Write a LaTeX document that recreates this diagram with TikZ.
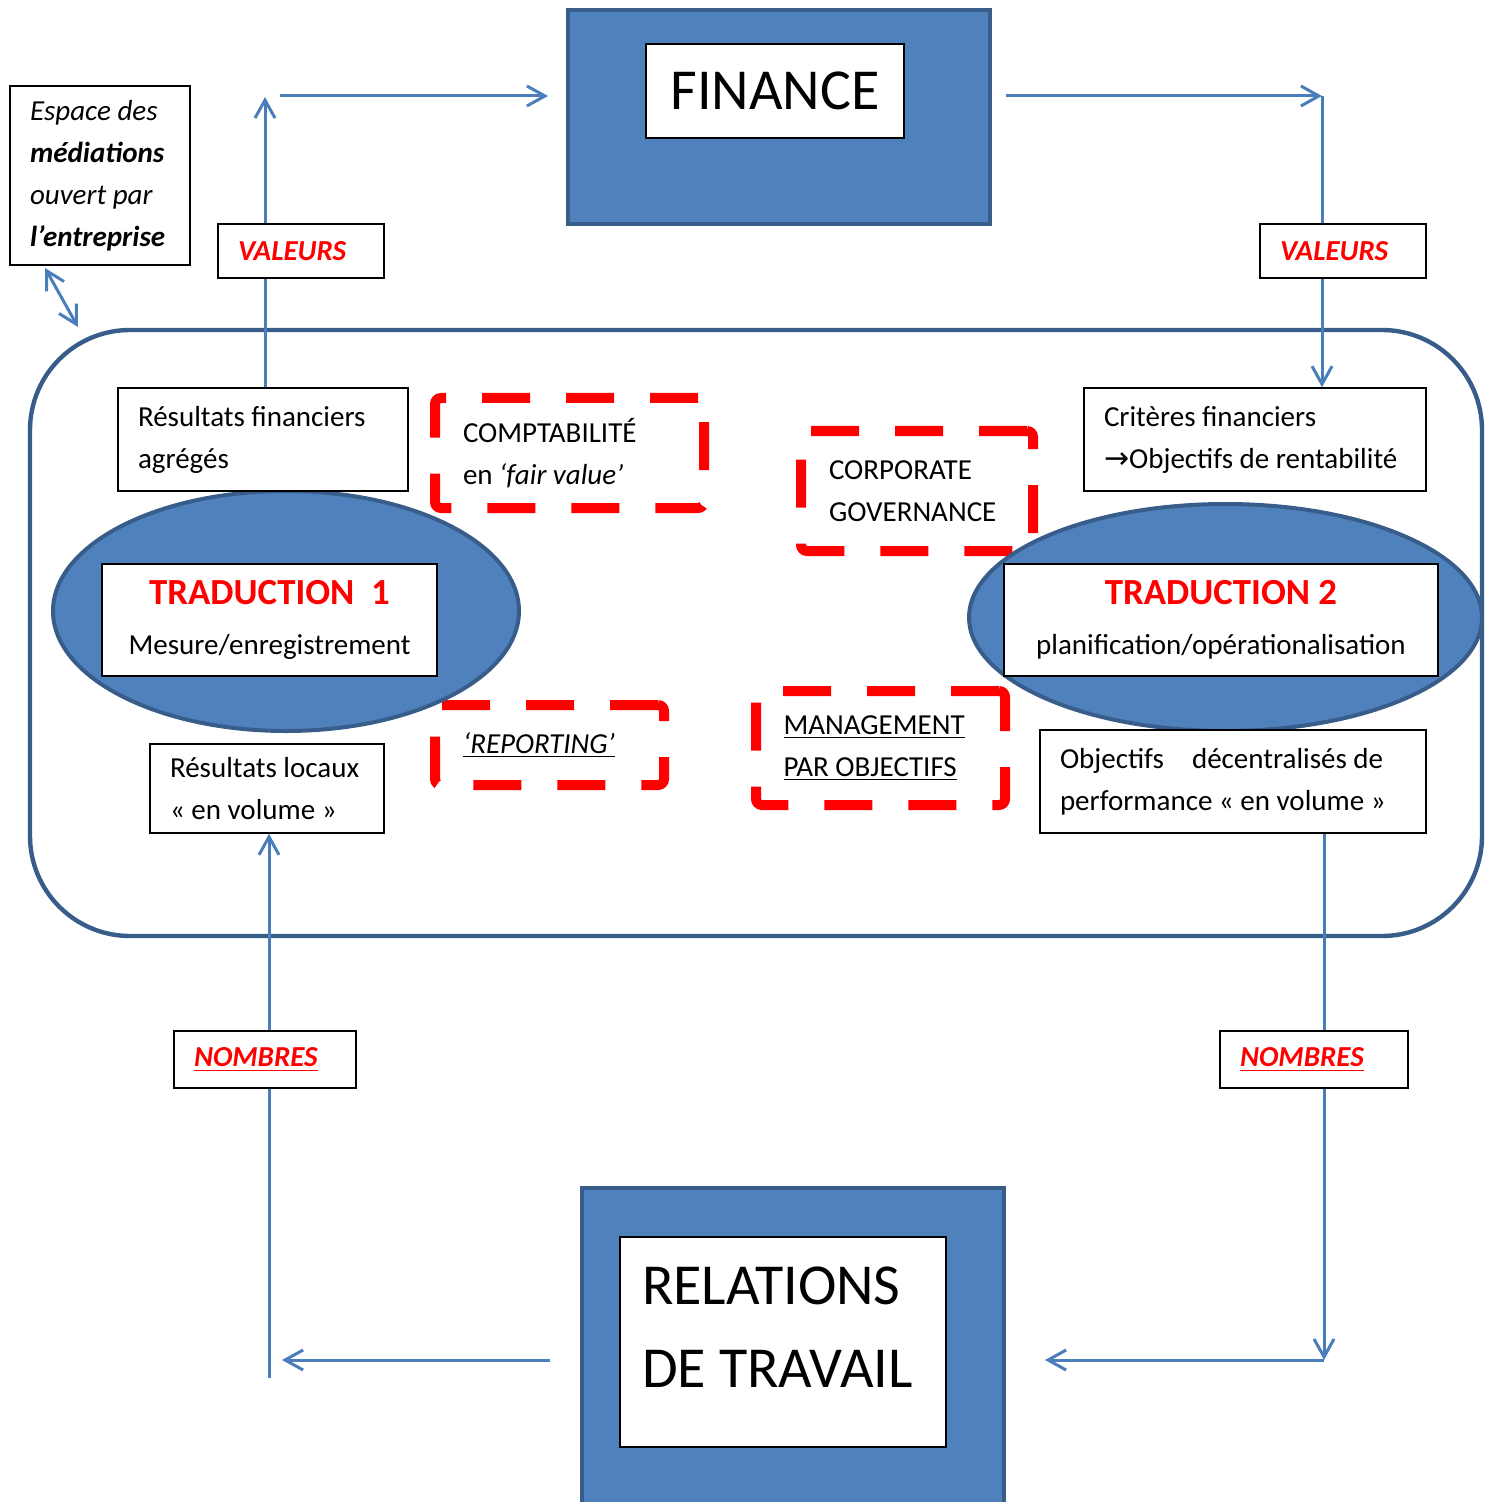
\documentclass[tikz,border=0pt]{standalone}
\usepackage{fontspec}
\setmainfont{Carlito}
\newfontfamily\arrowfont{DejaVu Sans}
\usepackage{tikz}
\usetikzlibrary{arrows.meta,positioning,shapes.geometric}
\usepackage{xcolor}
\definecolor{fillBlue}{RGB}{79,129,189}
\definecolor{frameBlue}{RGB}{56,93,138}
\definecolor{arrowBlue}{RGB}{74,126,187}
\newcommand\diagtext{\fontsize{14.5}{21}\selectfont}
\newcommand\poletext{\fontsize{29}{41.5}\selectfont}
\tikzset{
  flow/.style={-{Straight Barb[length=9pt,width=10pt]}, line width=1.5pt, draw=arrowBlue},
  twoway/.style={{Straight Barb[length=9pt,width=10pt]}-{Straight Barb[length=9pt,width=10pt]},
                 line width=1.5pt, draw=arrowBlue},
  pole/.style={draw=frameBlue, fill=fillBlue, line width=2pt},
  poletitle/.style={draw=black, fill=white, line width=.75pt, font=\poletext},
  zone/.style={draw=frameBlue, line width=2.2pt, rounded corners=50pt},
  translation/.style={ellipse, draw=frameBlue, fill=fillBlue, line width=2pt},
  tradbox/.style={draw=black, fill=white, line width=.75pt, align=flush center, font=\diagtext},
  result/.style={draw=black, fill=white, line width=.75pt, align=flush left, font=\diagtext,
                 inner xsep=10pt},
  tool/.style={draw=red, line width=5pt, dash pattern=on 24pt off 18pt, rounded corners=3pt,
               align=flush left, font=\diagtext, inner xsep=14pt},
  medium/.style={draw=black, fill=white, line width=.75pt, text=red, align=flush left,
                 font=\diagtext\bfseries\itshape, inner xsep=10pt}
}

\begin{document}
\begin{tikzpicture}[x=0.5pt, y=-0.5pt]
  \useasboundingbox (0,0) rectangle (1494,1502);
  % enterprise space
  \node[zone, minimum width=726pt, minimum height=303pt] (space) at (756,633) {};
  % the two poles
  \node[pole, minimum width=211pt, minimum height=107pt] (finance) at (779,117) {};
  \node[poletitle, minimum width=129pt, minimum height=47pt] (fintitle) at (775,91) {FINANCE};
  \node[pole, minimum width=211pt, minimum height=172pt] (relations) at (793,1360) {};
  \node[poletitle, minimum width=163pt, minimum height=105pt] (reltitle) at (783,1342) {};
  \node[font=\poletext, text width=141pt, align=flush left] (reltext) at (783,1327) {RELATIONS\\DE TRAVAIL};
  % dispositifs
  \node[tool, minimum width=134.5pt, minimum height=55pt, text width=106.5pt] (fairvalue) at (569.5,453)
       {COMPTABILITÉ\\en \textit{‘fair value’}};
  \node[tool, minimum width=116pt, minimum height=60pt, text width=88pt] (governance) at (917,491)
       {CORPORATE\\GOVERNANCE};
  \node[tool, minimum width=114.5pt, minimum height=40pt, text width=86.5pt] (reporting) at (549.5,745)
       {\underline{\textit{‘REPORTING’}}};
  \node[tool, minimum width=124.5pt, minimum height=57pt, text width=97pt, inner xsep=13.5pt] (mbo) at (880.5,748)
       {\underline{MANAGEMENT}\\\underline{PAR OBJECTIFS}};
  % translations
  \node[translation, minimum width=233pt, minimum height=120pt] (ell1) at (286,611) {};
  \node[translation, minimum width=256.5pt, minimum height=113.5pt] (ell2) at (1225.5,617.5) {};
  \node[tradbox, minimum width=167.5pt, minimum height=56pt] (trad1) at (269.5,620)
       {{\fontsize{18.4}{22}\selectfont\bfseries\color{red}TRADUCTION\ \ 1}\\[4pt]Mesure/enregistrement};
  \node[tradbox, minimum width=217pt, minimum height=56pt] (trad2) at (1221,620)
       {{\fontsize{18.4}{22}\selectfont\bfseries\color{red}TRADUCTION 2}\\[4pt]planification/opérationalisation};
  % results and objectives
  \node[result, minimum width=145pt, minimum height=51.5pt, text width=125pt] (aggr) at (263,439.5)
       {Résultats financiers\\agrégés};
  \node[result, minimum width=171pt, minimum height=51.5pt, text width=151pt] (crit) at (1255,439.5)
       {Critères financiers\\\mbox{{\arrowfont\fontsize{15}{21}\selectfont →}Objectifs de rentabilité}};
  \node[result, minimum width=117pt, minimum height=44.5pt, text width=97pt] (local) at (267,788.5)
       {Résultats locaux\\« en volume »};
  \node[result, minimum width=193pt, minimum height=51.5pt, text width=173pt] (decent) at (1233,781.5)
       {Objectifs\hspace{14pt}décentralisés de\\performance « en volume »};
  % circuit
  \coordinate (upL) at (265,97);
  \coordinate (topL) at (280,96);
  \coordinate (topR) at (1322,96);
  \coordinate (botR) at (1324,1360);
  \coordinate (botL) at (269,1378);
  \draw[flow] (aggr.north -| upL) -- (upL);
  \draw[flow, shorten >=9pt] (topL) -- (finance.west |- topL);
  \draw[flow, shorten <=7pt] (finance.east |- topR) -- (topR);
  \draw[flow] (topR) -- (crit.north -| topR);
  \draw[flow] (decent.south -| botR) -- (botR);
  \draw[flow, shorten >=19.5pt] (botR) -- (relations.east);
  \draw[flow, shorten <=15pt, shorten >=6.5pt] (relations.west) -- (botL |- relations.west);
  \draw[flow] (botL) -- (local.south -| botL);
  % media
  \node[medium, minimum width=83pt, minimum height=27pt, text width=63pt] (valL) at (301,251) {VALEURS};
  \node[medium, minimum width=83pt, minimum height=27pt, text width=63pt] (valR) at (1343,251) {VALEURS};
  \node[medium, minimum width=91pt, minimum height=28.5pt, text width=71pt] (nbL) at (265,1059.5)
       {\underline{NOMBRES}};
  \node[medium, minimum width=94pt, minimum height=28.5pt, text width=74pt] (nbR) at (1314,1059.5)
       {\underline{NOMBRES}};
  % legend
  \node[result, minimum width=90pt, minimum height=89.5pt, text width=70pt, font=\diagtext\itshape] (legend) at (100,175.5)
       {Espace des\\\textbf{médiations}\\ouvert par\\\textbf{l’entreprise}};
  \coordinate (legFoot) at (45,268);
  \coordinate (spaceEdge) at (78,327);
  \draw[twoway] (legFoot) -- (spaceEdge);
\end{tikzpicture}
\end{document}
